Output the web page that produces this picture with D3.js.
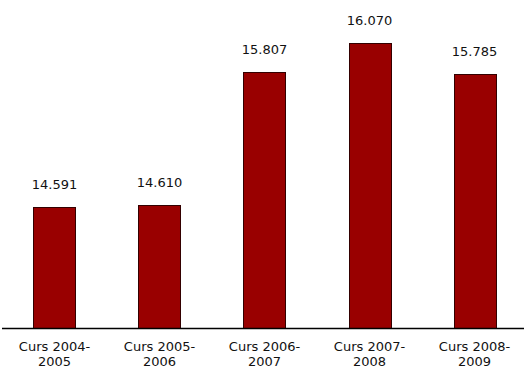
<!DOCTYPE html>
<html>
<head>
<meta charset="utf-8">
<script src="https://cdn.jsdelivr.net/npm/d3@7/dist/d3.min.js"></script>
<style>
  body { margin: 0; background: #fff; }
  text { font-family: "DejaVu Sans", Verdana, sans-serif; font-size: 13px; fill: #111; }
</style>
</head>
<body>
<script>
var courses = ["Curs 2004-2005", "Curs 2005-2006", "Curs 2006-2007", "Curs 2007-2008", "Curs 2008-2009"],
    students = [14.591, 14.610, 15.807, 16.070, 15.785];

var w = 526, h = 377, base = 328;

var svg = d3.select("body").append("svg")
    .attr("width", w)
    .attr("height", h);

var x = d3.scaleBand().domain(courses).range([2, 527]).paddingInner(0.6).paddingOuter(0.3),
    y = d3.scaleLinear().domain([13.5, 16.5]).range([base, -5]);

var data = courses.map(function(c, i) { return {course: c, value: students[i]}; });

// bars
svg.selectAll("rect.bar")
    .data(data)
  .enter().append("rect")
    .attr("class", "bar")
    .attr("x", function(d) { return Math.round(x(d.course)) + 0.5; })
    .attr("y", function(d) { return Math.round(y(d.value)) + 0.5; })
    .attr("width", Math.round(x.bandwidth()))
    .attr("height", function(d) { return base - Math.round(y(d.value)); })
    .style("fill", "#990000")
    .style("stroke", "#330000")
    .style("stroke-width", 1);

// value labels
svg.selectAll("text.val")
    .data(data)
  .enter().append("text")
    .attr("class", "val")
    .attr("text-anchor", "middle")
    .attr("x", function(d) { return x(d.course) + x.bandwidth() / 2; })
    .attr("y", function(d) { return y(d.value) - 18; })
    .text(function(d) { return d3.format(".3f")(d.value); });

// baseline
svg.append("line")
    .attr("x1", 2).attr("x2", 524)
    .attr("y1", base + 0.5).attr("y2", base + 0.5)
    .style("stroke", "#000")
    .style("stroke-width", 1.5);

// category labels, two lines
var lab = svg.selectAll("text.cat")
    .data(courses)
  .enter().append("text")
    .attr("class", "cat")
    .attr("text-anchor", "middle")
    .attr("transform", function(d) { return "translate(" + (x(d) + x.bandwidth() / 2) + "," + 351 + ")"; });

lab.append("tspan").attr("x", 0).attr("y", 0)
    .text(function(d) { return d.slice(0, d.indexOf("-") + 1); });
lab.append("tspan").attr("x", 0).attr("y", 15)
    .text(function(d) { return d.slice(d.indexOf("-") + 1); });
</script>
</body>
</html>
